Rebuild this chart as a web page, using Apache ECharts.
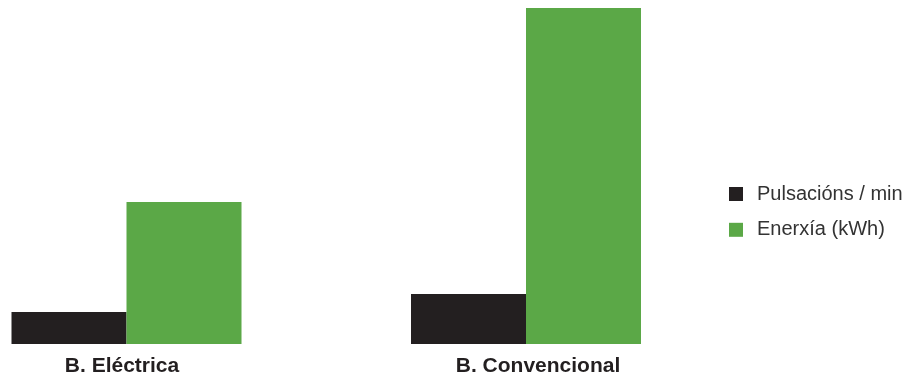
<!DOCTYPE html>
<html>
<head>
<meta charset="utf-8">
<script src="https://cdn.jsdelivr.net/npm/echarts@6/dist/echarts.min.js"></script>
<style>
  html, body { margin: 0; padding: 0; background: #ffffff; }
  #chart { width: 908px; height: 379px; }
</style>
</head>
<body>
<div id="chart"></div>
<script>
// Bike comparison: heart rate vs energy use
const categories = ['B. Eléctrica', 'B. Convencional'];
const seriesNames = ['Pulsacións / min', 'Enerxía (kWh)'];
const pulsacions = [32, 50];
const enerxia = [142, 336];
const valueMax = 336;

const colors = ['#231f20', '#5ba847'];
const fontFamily = '"Liberation Sans", Arial, sans-serif';

const chart = echarts.init(document.getElementById('chart'), null, { renderer: 'canvas' });

chart.setOption({
  animation: false,
  backgroundColor: '#ffffff',
  color: colors,
  // categories sit on the grid edges; bars are wider than the grid edge, so no clipping
  grid: { left: 126.5, width: 399.5, top: 8, bottom: 35, containLabel: false },
  legend: {
    orient: 'vertical',
    left: 729,
    top: 184,
    padding: 0,
    itemWidth: 14,
    itemHeight: 14,
    itemGap: 15.8,
    icon: 'rect',
    textStyle: { fontFamily, fontSize: 20, lineHeight: 20, color: '#333333', padding: [0, 0, 0, 9] },
    data: seriesNames
  },
  xAxis: {
    type: 'category',
    data: categories,
    boundaryGap: false,
    axisLine: { show: false },
    axisTick: { show: false },
    axisLabel: {
      margin: 12,
      fontFamily,
      fontSize: 21,
      fontWeight: 'bold',
      color: '#231f20',
      formatter: function (v, i) { return i === 0 ? '{a|' + v + '}' : '{b|' + v + '}'; },
      rich: {
        a: { fontFamily, fontSize: 21, fontWeight: 'bold', color: '#231f20', padding: [0, 9, 0, 0] },
        b: { fontFamily, fontSize: 21, fontWeight: 'bold', color: '#231f20', padding: [0, 0, 0, 24] }
      }
    }
  },
  yAxis: {
    type: 'value',
    min: 0,
    max: valueMax,
    show: false,
    splitLine: { show: false }
  },
  series: [
    {
      name: seriesNames[0],
      type: 'bar',
      data: pulsacions,
      barWidth: 115,
      barGap: '0%',
      clip: false,
      itemStyle: { color: colors[0] }
    },
    {
      name: seriesNames[1],
      type: 'bar',
      data: enerxia,
      barWidth: 115,
      barGap: '0%',
      clip: false,
      itemStyle: { color: colors[1] }
    }
  ]
});
</script>
</body>
</html>
